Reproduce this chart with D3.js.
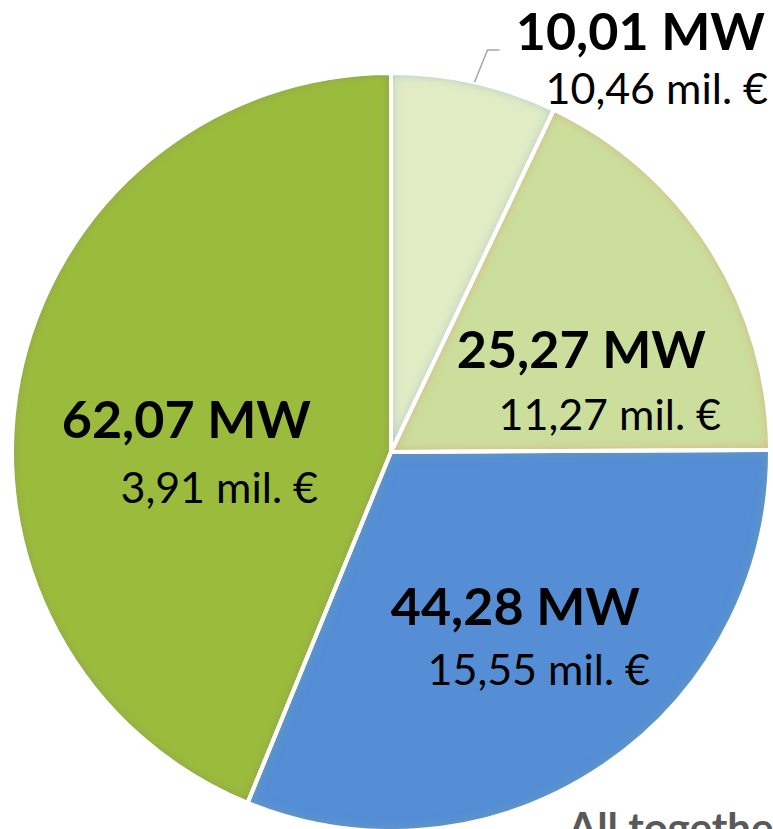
<!DOCTYPE html>
<html>
<head>
<meta charset="utf-8">
<script src="https://cdn.jsdelivr.net/npm/d3@7"></script>
<style>
  html, body { margin: 0; padding: 0; background: #ffffff; overflow: hidden; }
  svg { display: block; }
</style>
</head>
<body>
<svg id="chart" width="773" height="829"></svg>
<script>
// ---- data ----
const categories = ["A", "B", "C", "D"];
const powerMW = [10.01, 25.27, 44.28, 62.07];
const powerLabels = ["10,01 MW", "25,27 MW", "44,28 MW", "62,07 MW"];
const costLabels = ["10,46 mil. €", "11,27 mil. €", "15,55 mil. €", "3,91 mil. €"];
const sliceColors = ["#e1ecc5", "#cbde9c", "#558ed5", "#9bbb3c"];
const edgeColors = ["#9fbcc8", "#d9a277", "#6e9ea6", "#8a9a52"];
const totalLabel = "All together: 141,63 MW";

// ---- layout ----
const W = 773, H = 829;
const cx = 391, cy = 452, R = 379;
// label anchors (right-aligned) for bold line and second line
const labelLayout = [
  { x1: 765, y1: 50, x2: 768, y2: 104 },
  { x1: 706, y1: 368, x2: 721, y2: 430 },
  { x1: 640, y1: 625, x2: 650, y2: 685 },
  { x1: 311, y1: 438, x2: 318, y2: 503 }
];
const FONT = "Lato, 'Open Sans', 'DejaVu Sans', sans-serif";

const svg = d3.select("#chart");
const defs = svg.append("defs");

sliceColors.forEach((c, i) => {
  const f = defs.append("filter").attr("id", "glow" + i)
    .attr("x", "-5%").attr("y", "-5%").attr("width", "110%").attr("height", "110%");
  f.append("feGaussianBlur").attr("in", "SourceAlpha").attr("stdDeviation", 6).attr("result", "blur");
  f.append("feComposite").attr("in", "SourceAlpha").attr("in2", "blur").attr("operator", "out").attr("result", "edge");
  f.append("feFlood").attr("flood-color", edgeColors[i]).attr("flood-opacity", 1).attr("result", "col");
  f.append("feComposite").attr("in", "col").attr("in2", "edge").attr("operator", "in").attr("result", "glow");
  const m = f.append("feMerge");
  m.append("feMergeNode").attr("in", "SourceGraphic");
  m.append("feMergeNode").attr("in", "glow");
});

const pie = d3.pie().sort(null).value(d => d)(powerMW);
const arc = d3.arc().innerRadius(0).outerRadius(R);

const g = svg.append("g").attr("transform", `translate(${cx},${cy})`);

g.selectAll("path.fill").data(pie).join("path")
  .attr("class", "fill")
  .attr("d", arc)
  .attr("fill", (d, i) => sliceColors[i])
  .attr("filter", (d, i) => `url(#glow${i})`);

g.selectAll("path.sep").data(pie).join("path")
  .attr("class", "sep")
  .attr("d", arc)
  .attr("fill", "none")
  .attr("stroke", "#ffffff")
  .attr("stroke-width", 4)
  .attr("stroke-linejoin", "round");

// leader line for the small slice
const d0 = pie[0];
const mid0 = (d0.startAngle + d0.endAngle) / 2;
const p0 = [cx + R * Math.sin(mid0), cy - R * Math.cos(mid0)];
const elbow = [p0[0] + 13, labelLayout[0].y1];
svg.append("polyline")
  .attr("points", [p0, elbow, [elbow[0] + 12, elbow[1]]].map(p => p.join(",")).join(" "))
  .attr("fill", "none")
  .attr("stroke", "#a6a6a6")
  .attr("stroke-width", 1.5);

// labels
const lbl = svg.append("g");
pie.forEach((d, i) => {
  const L = labelLayout[i];
  lbl.append("text")
    .attr("x", L.x1).attr("y", L.y1)
    .attr("text-anchor", "end")
    .attr("font-family", FONT)
    .attr("font-weight", "bold")
    .attr("font-size", 52)
    .attr("fill", "#000000")
    .text(powerLabels[i]);
  lbl.append("text")
    .attr("x", L.x2).attr("y", L.y2)
    .attr("text-anchor", "end")
    .attr("font-family", FONT)
    .attr("font-size", 43)
    .attr("fill", "#000000")
    .text(costLabels[i]);
});

svg.append("text")
  .attr("x", 568).attr("y", 843)
  .attr("font-family", FONT)
  .attr("font-weight", "bold")
  .attr("font-size", 42)
  .attr("fill", "#595959")
  .text(totalLabel);
</script>
</body>
</html>
